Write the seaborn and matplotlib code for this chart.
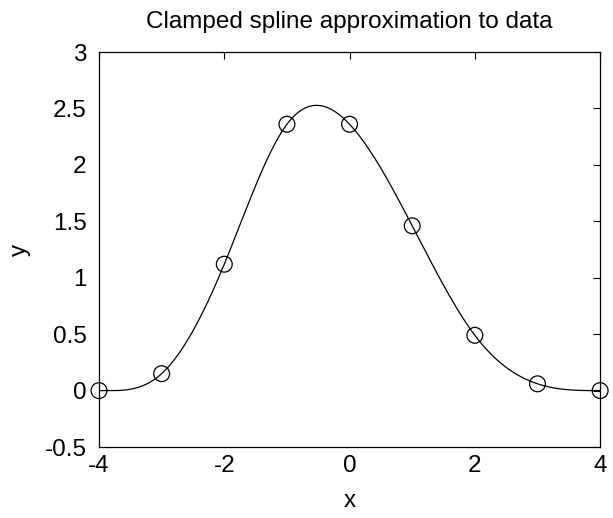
import numpy as np
import pandas as pd
import matplotlib
matplotlib.use("Agg")
import matplotlib.pyplot as plt
import seaborn as sns

# data nodes
x_nodes = [-4, -3, -2, -1, 0, 1, 2, 3, 4]
y_nodes = [0.0, 0.15, 1.12, 2.36, 2.36, 1.46, 0.49, 0.06, 0.0]
end_slopes = [0.0, 0.0]  # clamped end conditions

x_ticks = [-4, -2, 0, 2, 4]
y_ticks = [-0.5, 0, 0.5, 1, 1.5, 2, 2.5, 3]
y_tick_labels = ["-0.5", "0", "0.5", "1", "1.5", "2", "2.5", "3"]


def clamped_spline(xk, yk, d0, dn, xs):
    xk = np.asarray(xk, float)
    yk = np.asarray(yk, float)
    n = len(xk)
    h = np.diff(xk)
    A = np.zeros((n, n))
    b = np.zeros(n)
    A[0, 0], A[0, 1] = 2 * h[0], h[0]
    b[0] = 3 * ((yk[1] - yk[0]) / h[0] - d0)
    A[-1, -2], A[-1, -1] = h[-1], 2 * h[-1]
    b[-1] = 3 * (dn - (yk[-1] - yk[-2]) / h[-1])
    for i in range(1, n - 1):
        A[i, i - 1] = h[i - 1]
        A[i, i] = 2 * (h[i - 1] + h[i])
        A[i, i + 1] = h[i]
        b[i] = 3 * ((yk[i + 1] - yk[i]) / h[i] - (yk[i] - yk[i - 1]) / h[i - 1])
    c = np.linalg.solve(A, b)
    bb = (yk[1:] - yk[:-1]) / h - h * (2 * c[:-1] + c[1:]) / 3
    dd = (c[1:] - c[:-1]) / (3 * h)
    idx = np.clip(np.searchsorted(xk, xs) - 1, 0, n - 2)
    t = xs - xk[idx]
    return yk[idx] + bb[idx] * t + c[idx] * t ** 2 + dd[idx] * t ** 3


xs = np.linspace(-4, 4, 401)
ys = clamped_spline(x_nodes, y_nodes, end_slopes[0], end_slopes[1], xs)
curve = pd.DataFrame({"x": xs, "y": ys})
points = pd.DataFrame({"x": x_nodes, "y": y_nodes})

sns.set_style("white")
plt.rcParams["font.family"] = ["Liberation Sans", "DejaVu Sans"]
plt.rcParams["text.color"] = "black"
plt.rcParams["axes.labelcolor"] = "black"

FS = 17.5
fig = plt.figure(figsize=(6.13, 5.18), dpi=100)
ax = fig.add_axes([0.1615, 0.137, 0.8175, 0.7626])

sns.lineplot(data=curve, x="x", y="y", ax=ax, color="black", linewidth=0.9)
sns.scatterplot(data=points, x="x", y="y", ax=ax, marker="o", s=130,
                facecolor="none", edgecolor="black", linewidth=0.9, zorder=3,
                clip_on=False)

ax.set_xlim(-4, 4)
ax.set_ylim(-0.5, 3)
ax.set_xticks(x_ticks)
ax.set_xticklabels([str(v) for v in x_ticks])
ax.set_yticks(y_ticks)
ax.set_yticklabels(y_tick_labels)
ax.tick_params(direction="in", length=5, width=0.8, top=True, right=True,
               labelsize=FS, colors="black")
ax.tick_params(axis="x", pad=6)
ax.tick_params(axis="y", pad=9)
for s in ax.spines.values():
    s.set_visible(True)
    s.set_color("black")
    s.set_linewidth(0.9)
ax.set_xlabel("x", fontsize=FS, labelpad=9)
ax.set_ylabel("y", fontsize=FS, labelpad=10)
ax.set_title("Clamped spline approximation to data", fontsize=FS, pad=17)

fig.savefig("out.png", dpi=100)
